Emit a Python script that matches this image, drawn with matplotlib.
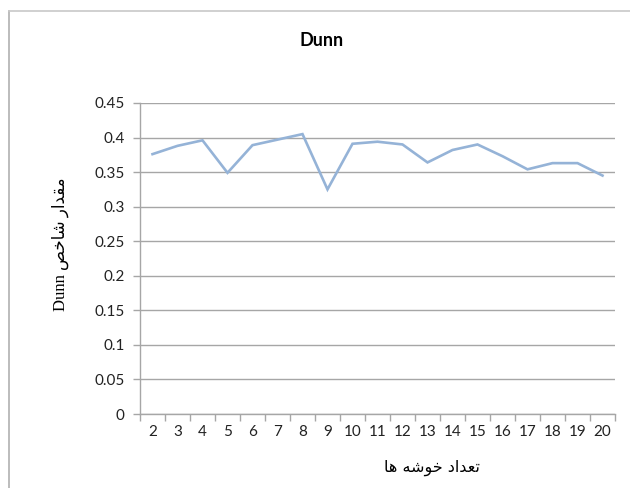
import matplotlib
matplotlib.use('Agg')
import matplotlib.pyplot as plt
from matplotlib.lines import Line2D

plt.rcParams['font.family'] = ['Lato', 'DejaVu Sans']

clusters = list(range(2, 21))
dunn = [0.376, 0.388, 0.396, 0.349, 0.389, 0.397, 0.405, 0.325, 0.391, 0.394,
        0.390, 0.364, 0.382, 0.390, 0.373, 0.354, 0.363, 0.363, 0.345]
yticks = [0, 0.05, 0.1, 0.15, 0.2, 0.25, 0.3, 0.35, 0.4, 0.45]
ytick_labels = ['0', '0.05', '0.1', '0.15', '0.2', '0.25', '0.3', '0.35', '0.4', '0.45']

title = 'Dunn'
# Persian labels, written in presentation forms (visual order) since matplotlib does not shape Arabic script
ylabel = 'Dunn \uFEBA\uFEA7\uFE8E\uFEB7 \uFEAD\uFE8D\uFEAA\uFED8\uFEE3'   # مقدار شاخص Dunn
xlabel = '\uFE8E\uFEEB \uFEEA\uFEB7\uFEEE\uFEA7 \uFEA9\uFE8D\uFEAA\uFECC\uFE97'  # تعداد خوشه ها

fig = plt.figure(figsize=(6.3, 4.88), dpi=100)
W, H = 630, 488
ax = fig.add_axes([140 / W, 1 - 414 / H, 475 / W, (414 - 103) / H])

ax.plot(clusters, dunn, color='#95B3D7', linewidth=1.9, solid_joinstyle='miter')

ax.set_xlim(1.5, 20.5)
ax.set_ylim(0, 0.45)
ax.set_yticks(yticks)
ax.set_yticklabels(ytick_labels)
ax.set_xticks(clusters)
ax.set_xticks([c + 0.5 for c in [1] + clusters], minor=True)
ax.tick_params(axis='x', which='major', length=0, pad=8, labelsize=11, colors='#222222')
ax.tick_params(axis='x', which='minor', length=5, color='#a6a6a6', width=1)
ax.tick_params(axis='y', length=5, color='#a6a6a6', width=1, pad=6, labelsize=11, colors='#222222')
ax.tick_params(axis='y', color='#a6a6a6')

ax.yaxis.grid(True, color='#a6a6a6', linewidth=1)
ax.set_axisbelow(True)
for s in ['top', 'right']:
    ax.spines[s].set_visible(False)
for s in ['left', 'bottom']:
    ax.spines[s].set_color('#a6a6a6')
    ax.spines[s].set_linewidth(1)

fig.text(322 / W, 1 - 40 / H, title, ha='center', va='center', fontsize=13, fontweight='bold')
fig.text(60 / W, 1 - 244 / H, ylabel, ha='center', va='center', rotation=90, fontsize=12,
         family=['Liberation Serif', 'DejaVu Sans'])
fig.text(432 / W, 1 - 468 / H, xlabel, ha='center', va='center', fontsize=11.5,
         family=['DejaVu Sans'])

# chart frame (left and top edges visible)
fig.add_artist(Line2D([8.5 / W, 8.5 / W], [0, 1 - 10.5 / H], color='#b0b0b0', linewidth=1.2))
fig.add_artist(Line2D([8.5 / W, 1], [1 - 10.5 / H, 1 - 10.5 / H], color='#c8c8c8', linewidth=1.2))

fig.savefig('out.png', dpi=100)
